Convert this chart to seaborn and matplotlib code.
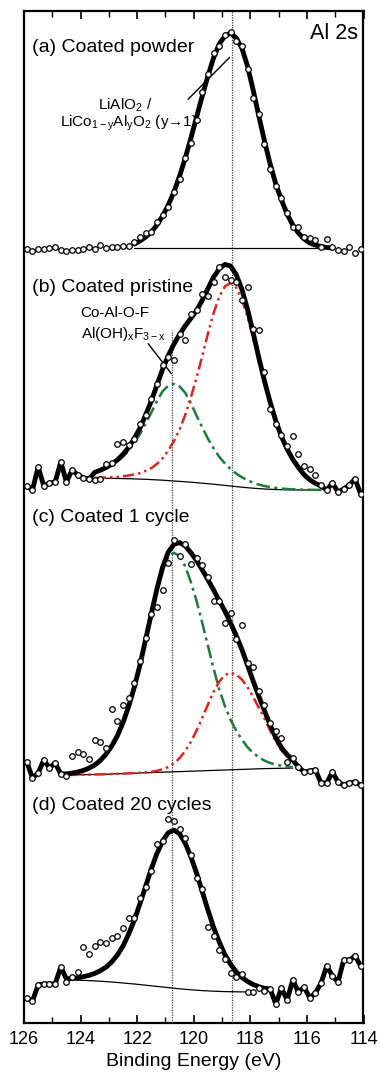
import numpy as np
import matplotlib
matplotlib.use("Agg")
import matplotlib.pyplot as plt
import seaborn as sns

# ---------------- data ----------------
energy = [125.9, 125.7, 125.5, 125.3, 125.1, 124.9, 124.7, 124.5, 124.3, 124.1,
          123.9, 123.7, 123.5, 123.3, 123.1, 122.9, 122.7, 122.5, 122.3, 122.1,
          121.9, 121.7, 121.5, 121.3, 121.1, 120.9, 120.7, 120.5, 120.3, 120.1,
          119.9, 119.7, 119.5, 119.3, 119.1, 118.9, 118.7, 118.5, 118.3, 118.1,
          117.9, 117.7, 117.5, 117.3, 117.1, 116.9, 116.7, 116.5, 116.3, 116.1,
          115.9, 115.7, 115.5, 115.3, 115.1, 114.9, 114.7, 114.5, 114.3, 114.1]

panel_offsets = [775, 533, 248, 31]
panel_labels = ["(a) Coated powder", "(b) Coated pristine", "(c) Coated 1 cycle", "(d) Coated 20 cycles"]
reference_energies = [120.77, 118.65]
xticks = [126, 124, 122, 120, 118, 116, 114]

a_counts = [-1, -3, -1, -1, 0, 1, -2, -3, -2, -2, -1, 1, -1, 3, 0, 1, 1, 2, 2,
            6, 11, 15, 16, 26, 33, 41, 56, 69, 90, 105, 128,
            156, 174, 195, 202, 213,
            216, 207, 202, 179, 150, 134, 104, 79, 62, 50, 35, 21, 21, 11, 10, 8, 1, 9, 1,
            -2, -3, 1, -5, -1]
b_counts = [4, 0, 23, 4, 7, 8, 28, 8, 20, 15,
            12, 11, 10, 11, 26, 27, 46, 48, 45, 51,
            66, 75, 91, 106, 125, 133, 130, 156, 150, 176,
            180, 196, 194, 208, 223, 213, 210, 208, 190, 203,
            161, 160, 118, 81, 66, 55, 44, 54, 36, 24,
            21, 15, 5, 0, 7, -2, 1, 5, 11, -4]
c_counts = [13, -3, 2, 15, 7, 12, 1, -1, 19, 23,
            21, 16, 35, 33, 27, 66, 54, 70, 77, 92,
            114, 137, 161, 168, 185, 212, 235, 219, 231, 211,
            217, 210, 198, 174, 174, 152, 162, 136, 150, 112,
            108, 84, 70, 52, 44, 37, 13, 17, 8, 3,
            4, 5, -8, -8, 3, -7, -10, -8, -7, -10]
d_counts = [-6, -9, 7, 8, 8, 8, 25, 10, 15, 20,
            45, 38, 46, 50, 49, 54, 56, 64, 74, 74,
            94, 105, 121, 148, 151, 173, 171, 163, 154, 137,
            114, 103, 65, 56, 42, 33, 19, 15, 18, 0,
            0, 4, 1, 3, -12, 4, -8, 12, 0, 5,
            -6, -1, 9, 26, 16, 10, 32, 32, 36, 26]

# fit windows (start energy, end energy)
a_window = (122.1, 115.1)
b_window = (123.5, 115.5)
c_window = (124.5, 116.5)
d_window = (124.5, 117.5)
d_background_end = 118.1

# (a) one component (LiAlO2), flat background
a_background = [0, 0, 0, 0, 0, 0, 0, 0, 0, 0, 0, 0, 0, 0, 0, 0, 0, 0,
                0, 0, 0, 0, 0, 0, 0, 0, 0, 0, 0, 0, 0, 0, 0, 0, 0, 0]
a_peak = [4, 7, 11, 16, 23, 32, 43, 56, 72, 90, 110, 131, 152, 172, 190, 204, 212, 215,
          210, 200, 182, 158, 132, 107, 84, 64, 48, 34, 23, 15, 9, 5, 3, 1.5, 0.5, 0]

# (b) two components
b_background = [11.8, 11.8, 11.7, 11.6, 11.5, 11.4, 11.3, 11.1, 10.9, 10.7,
                10.4, 10.1, 9.8, 9.4, 9.0, 8.6, 8.2, 7.8, 7.3, 6.8,
                6.3, 5.8, 5.2, 4.6, 4.0, 3.4, 2.8, 2.3, 1.8, 1.4,
                1.0, 0.7, 0.5, 0.3, 0.2, 0.1, 0.1, 0, 0, 0, 0]
b_green = [5.5, 7.5, 10, 13, 17, 22, 28, 36, 45, 56,
           67, 79, 89, 95, 97, 95, 89, 79, 67, 56,
           45, 36, 28, 22, 17, 13, 10, 7.5, 5.5, 4,
           3, 2.2, 1.6, 1.1, 0.8, 0.6, 0.4, 0.3, 0.2, 0.15, 0.1]
b_red = [0.3, 0.5, 0.8, 1.1, 1.6, 2.3, 3.2, 4.5, 6, 8.5,
         11.5, 16, 22, 30, 40, 52, 67, 85, 105, 127,
         150, 171, 188, 199, 203, 199, 188, 171, 150, 127,
         105, 85, 67, 52, 40, 30, 22, 15, 10, 6.5, 4]

# (c) two components
c_background = [0, 0.1, 0.2, 0.3, 0.4, 0.5, 0.6, 0.8, 1.0, 1.2,
                1.4, 1.6, 1.8, 2.0, 2.2, 2.4, 2.6, 2.8, 3.0, 3.2,
                3.4, 3.6, 3.8, 4.0, 4.2, 4.4, 4.6, 4.8, 5.0, 5.2,
                5.4, 5.6, 5.8, 6.0, 6.2, 6.4, 6.5, 6.6, 6.7, 6.8, 6.9]
c_green = [1.1, 1.8, 2.8, 4.3, 6.5, 9.5, 14, 20, 28, 38,
           51, 67, 86, 108, 133, 158, 182, 202, 215, 219,
           215.5, 205, 189, 170, 148, 125, 102, 81, 64, 50,
           39, 30, 22, 16, 11.5, 8, 5.5, 3.8, 2.5, 1.6, 1.0]
c_red = [0, 0, 0, 0, 0, 0, 0, 0, 0, 0,
         0, 0.05, 0.1, 0.2, 0.4, 0.8, 1.6, 3, 5, 8.5,
         13.5, 20.5, 29.5, 40.5, 53, 66, 78.5, 88.5, 95, 97,
         95, 90, 82, 72, 61, 50, 38, 27, 18, 12, 7]

# (d) one component
d_background = [12.0, 11.9, 11.8, 11.6, 11.4, 11.1, 10.8, 10.4, 10.0, 9.5,
                9.0, 8.5, 8.0, 7.4, 6.8, 6.2, 5.6, 5.0, 4.4, 3.8,
                3.2, 2.7, 2.2, 1.8, 1.4, 1.1, 0.8, 0.6, 0.4, 0.3,
                0.2, 0.1, 0.05, 0, 0, 0]
d_peak = [1.1, 1.7, 2.5, 3.7, 5.3, 7.5, 10.5, 14.5, 20, 27.5,
          37, 49.5, 64, 81, 99, 117, 133, 146, 155, 158,
          155, 146, 133, 117, 99, 81, 64, 49.5, 37, 27.5,
          20, 14.5, 10.5, 7.5, 5.3, 3.7]

# ---------------- style ----------------
sns.set_theme(style="white")
plt.rcParams["font.family"] = ["Liberation Sans", "DejaVu Sans"]
plt.rcParams["mathtext.fontset"] = "custom"
plt.rcParams["mathtext.rm"] = "Liberation Sans"
plt.rcParams["mathtext.it"] = "Liberation Sans:italic"
plt.rcParams["mathtext.default"] = "regular"
plt.rcParams["text.color"] = "black"
plt.rcParams["axes.labelcolor"] = "black"
plt.rcParams["xtick.color"] = "black"

RED = "#e3231f"
GREEN = "#1b7d3a"
THICK = 3.5

fig = plt.figure(figsize=(3.8, 10.73), dpi=100)
ax = fig.add_axes([24 / 380, 50 / 1073, 339.5 / 380, 1012 / 1073])

E = np.array(energy)


def window_idx(win):
    return energy.index(win[0]), energy.index(win[1])


def draw_panel(counts, offset, win, background, components, jagged=True, bg_end=None):
    i0, i1 = window_idx(win)
    cnt = np.array(counts, dtype=float) + offset
    ef = E[i0:i1 + 1]
    bg = np.array(background, dtype=float) + offset
    env = bg.copy()
    for comp, _col, _d in components:
        env = env + np.array(comp, dtype=float)
    # background
    nb = len(ef) if bg_end is None else energy.index(bg_end) - i0 + 1
    sns.lineplot(x=ef[:nb], y=bg[:nb], color="black", lw=0.9, sort=False, estimator=None,
                 ax=ax, legend=False, zorder=2)
    # components
    for comp, col, dash in components:
        if dash is None:
            continue
        sns.lineplot(x=ef, y=bg + np.array(comp, dtype=float), color=col, lw=1.8,
                     sort=False, estimator=None, ax=ax, legend=False, zorder=3)
        ax.lines[-1].set_dashes(dash)
    # thick line: raw data outside fit, envelope inside
    if jagged:
        tx = np.concatenate([E[:i0], ef, E[i1 + 1:]])
        ty = np.concatenate([cnt[:i0], env, cnt[i1 + 1:]])
    else:
        tx, ty = ef, env
    sns.lineplot(x=tx, y=ty, color="black", lw=THICK, sort=False, estimator=None,
                 ax=ax, legend=False, zorder=4, solid_joinstyle="round")
    # data points
    sns.scatterplot(x=E, y=cnt, s=16, facecolor="white", edgecolor="black",
                    linewidth=0.9, ax=ax, legend=False, zorder=5)


RED_DASH = [4.5, 1.6, 1.0, 1.6, 1.0, 1.6]
GREEN_DASH = [5.5, 1.8, 1.2, 1.8]

draw_panel(a_counts, panel_offsets[0], a_window, a_background,
           [(a_peak, "black", None)], jagged=False)
draw_panel(b_counts, panel_offsets[1], b_window, b_background,
           [(b_green, GREEN, GREEN_DASH), (b_red, RED, RED_DASH)])
draw_panel(c_counts, panel_offsets[2], c_window, c_background,
           [(c_green, GREEN, GREEN_DASH), (c_red, RED, RED_DASH)])
draw_panel(d_counts, panel_offsets[3], d_window, d_background,
           [(d_peak, "black", None)], bg_end=d_background_end)

# reference lines
ax.vlines(reference_energies[0], 0, 693, colors="#444444", linestyles=(0, (1, 1)), lw=0.9, zorder=1)
ax.vlines(reference_energies[1], 0, 1012, colors="#444444", linestyles=(0, (1, 1)), lw=0.9, zorder=1)

# annotations
ax.annotate("", xy=(118.73, 965.7), xytext=(120.2, 923.7),
            arrowprops=dict(arrowstyle="-", lw=1.0, color="black", shrinkA=0, shrinkB=0))
ax.text(122.43, 918, "LiAlO$_2$ /", ha="center", va="center", fontsize=11)
ax.text(122.3, 899.5, "LiCo$_{1-y}$Al$_y$O$_2$ (y→1)", ha="center", va="center", fontsize=11)

ax.annotate("", xy=(120.79, 649.3), xytext=(121.61, 679.3),
            arrowprops=dict(arrowstyle="-", lw=1.0, color="black", shrinkA=0, shrinkB=0))
ax.text(124.02, 710, "Co-Al-O-F", ha="left", va="center", fontsize=11)
ax.text(123.97, 689, "Al(OH)$_x$F$_{3-x}$", ha="left", va="center", fontsize=11)

label_y = [0.9644, 0.7263, 0.50, 0.2154]
for lab, yy in zip(panel_labels, label_y):
    ax.text(0.0236, yy, lab, transform=ax.transAxes, ha="left", va="center", fontsize=14)
ax.text(0.984, 0.978, "Al 2s", transform=ax.transAxes, ha="right", va="center", fontsize=15.5)

# axes
ax.set_xlim(126, 114)
ax.set_ylim(0, 1012)
ax.set_yticks([])
ax.set_xticks(xticks)
ax.set_xticklabels([str(t) for t in xticks], fontsize=13)
ax.set_xticks([125, 123, 121, 119, 117, 115], minor=True)
ax.tick_params(axis="x", which="major", direction="in", length=6, width=1.2,
               top=True, bottom=True, pad=6, colors="black")
ax.tick_params(axis="x", which="minor", direction="in", length=4, width=1.0,
               top=True, bottom=True)
ax.set_xlabel("Binding Energy (eV)", fontsize=14, labelpad=3)
for sp in ax.spines.values():
    sp.set_linewidth(1.6)
    sp.set_color("black")

fig.savefig("out.png", dpi=100)
